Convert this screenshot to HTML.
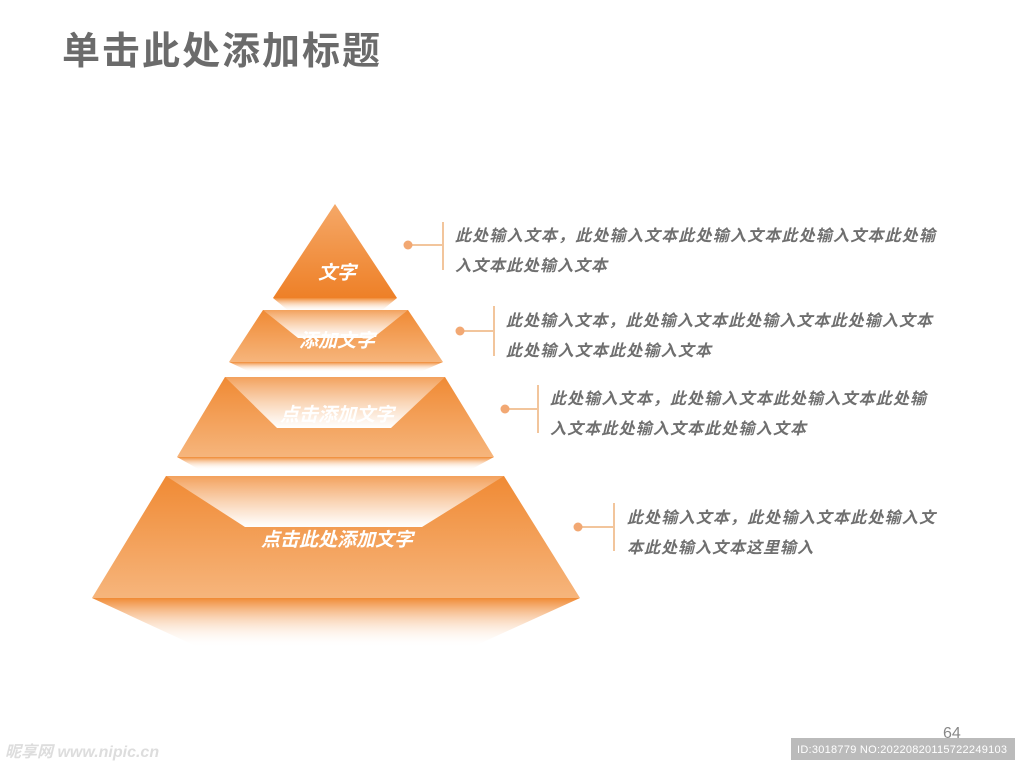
<!DOCTYPE html>
<html><head><meta charset="utf-8"><style>
body{margin:0;width:1024px;height:768px;background:#fff;overflow:hidden;font-family:"Liberation Sans","Noto Sans CJK SC",sans-serif}
</style></head><body>
<svg width="1024" height="768" xmlns="http://www.w3.org/2000/svg" style="position:absolute;left:0;top:0">
<defs>
<linearGradient id="o" x1="0" y1="0" x2="0" y2="1"><stop offset="0" stop-color="#f08a34"/><stop offset="1" stop-color="#f6b57c"/></linearGradient>
<linearGradient id="o1" x1="0" y1="0" x2="0" y2="1"><stop offset="0" stop-color="#f5a868"/><stop offset="1" stop-color="#ee8027"/></linearGradient>
<linearGradient id="w" x1="0" y1="0" x2="0" y2="1"><stop offset="0" stop-color="#fff" stop-opacity="0.2"/><stop offset="1" stop-color="#fff" stop-opacity="1"/></linearGradient>
<linearGradient id="f" x1="0" y1="0" x2="0" y2="1"><stop offset="0" stop-color="#f08a34"/><stop offset="1" stop-color="#fff" stop-opacity="0"/></linearGradient>
</defs>
<text x="62" y="64" font-size="38" font-weight="bold" fill="#6b6b6b" textLength="318" font-family="Liberation Sans,Noto Sans CJK SC,sans-serif">单击此处添加标题</text>

<!-- tier1 -->
<polygon points="335,204 397,298 273,298" fill="url(#o1)"/>
<polygon points="273,298 397,298 380,312 290,312" fill="url(#f)"/>
<text x="337" y="279" font-size="19" font-weight="bold" font-style="italic" fill="#fff" text-anchor="middle">文字</text>

<!-- tier2 -->
<polygon points="263,310 408,310 443,362 229,362" fill="url(#o)"/>
<polygon points="229,362 443,362 420,372 250,372" fill="url(#f)"/>
<text x="337" y="347" font-size="19" font-weight="bold" font-style="italic" fill="#fff" text-anchor="middle">添加文字</text>
<polygon points="263,310 408,310 373,338 298,338" fill="url(#w)"/>

<!-- tier3 -->
<polygon points="225,377 445,377 494,457 177,457" fill="url(#o)"/>
<polygon points="177,457 494,457 470,470 200,470" fill="url(#f)"/>
<text x="337" y="421" font-size="19" font-weight="bold" font-style="italic" fill="#fff" text-anchor="middle">点击添加文字</text>
<polygon points="225,377 445,377 391,428 277,428" fill="url(#w)"/>

<!-- tier4 -->
<polygon points="166,476 504,476 580,598 92,598" fill="url(#o)"/>
<polygon points="92,598 580,598 470,648 200,648" fill="url(#f)"/>
<polygon points="166,476 504,476 422,527 245,527" fill="url(#w)"/>
<text x="337" y="546" font-size="19" font-weight="bold" font-style="italic" fill="#fff" text-anchor="middle">点击此处添加文字</text>

<g stroke="#f2c59c" stroke-width="2" fill="none">
<line x1="408" y1="245" x2="443" y2="245"/><line x1="443" y1="222" x2="443" y2="270"/>
<line x1="460" y1="331" x2="494" y2="331"/><line x1="494" y1="306" x2="494" y2="356"/>
<line x1="505" y1="409" x2="538" y2="409"/><line x1="538" y1="385" x2="538" y2="433"/>
<line x1="578" y1="527" x2="614" y2="527"/><line x1="614" y1="503" x2="614" y2="551"/>
</g>
<g fill="#f2a873">
<circle cx="408" cy="245" r="4.5"/><circle cx="460" cy="331" r="4.5"/><circle cx="505" cy="409" r="4.5"/><circle cx="578" cy="527" r="4.5"/>
</g>
<g font-size="16" font-weight="bold" font-style="italic" fill="#6f6f6f">
<text x="455" y="241" textLength="480">此处输入文本，此处输入文本此处输入文本此处输入文本此处输</text>
<text x="455" y="271" textLength="152">入文本此处输入文本</text>
<text x="506" y="326" textLength="426">此处输入文本，此处输入文本此处输入文本此处输入文本</text>
<text x="506" y="356" textLength="205">此处输入文本此处输入文本</text>
<text x="550" y="404" textLength="376">此处输入文本，此处输入文本此处输入文本此处输</text>
<text x="550" y="434" textLength="256">入文本此处输入文本此处输入文本</text>
<text x="627" y="523" textLength="308">此处输入文本，此处输入文本此处输入文</text>
<text x="627" y="553" textLength="186">本此处输入文本这里输入</text>
</g>
<text x="943" y="738" font-size="16" fill="#888">64</text>
<rect x="791" y="738" width="224" height="22" fill="#bbb"/>
<text x="797" y="753" font-size="11" fill="#fff" textLength="210">ID:3018779 NO:20220820115722249103</text>
<text x="5" y="757" font-size="16" fill="#ddd" font-style="italic" font-weight="bold">昵享网 www.nipic.cn</text>
</svg>
</body></html>
